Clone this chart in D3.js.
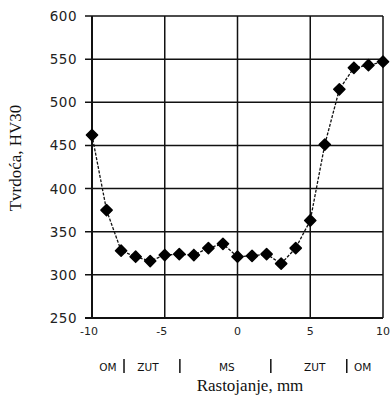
<!DOCTYPE html>
<html><head><meta charset="utf-8">
<script src="https://cdn.jsdelivr.net/npm/d3@7"></script>
<style>body{margin:0;background:#fff}</style>
</head><body>
<svg id="c" width="390" height="400"></svg>
<script>
const distance = [-10,-9,-8,-7,-6,-5,-4,-3,-2,-1,0,1,2,3,4,5,6,7,8,9,10];
const hardness = [462,375,328,321,316,323,324,323,331,336,321,322,324,313,331,363,451,515,540,543,547];
const yTicks = [250,300,350,400,450,500,550,600];
const xTicks = [-10,-5,0,5,10];
const zoneLabels = ["OM","ZUT","MS","ZUT","OM"];
const zonePos = [-8.9,-6.15,-0.73,5.31,8.6];
const zoneDividers = [-7.8,-3.96,2.29,7.51];

const svg = d3.select("#c");
const x = d3.scaleLinear().domain([-10,10]).range([92,383]);
const y = d3.scaleLinear().domain([250,600]).range([318,16]);

// grid
svg.append("g").selectAll("line").data(yTicks).join("line")
  .attr("x1",85).attr("x2",x(10)).attr("y1",d=>y(d)).attr("y2",d=>y(d))
  .attr("stroke","#111").attr("stroke-width",d=>d===250?2:1.5);
svg.append("g").selectAll("line").data(xTicks).join("line")
  .attr("x1",d=>x(d)).attr("x2",d=>x(d)).attr("y1",y(600)).attr("y2",y(250))
  .attr("stroke","#111").attr("stroke-width",d=>d===-10?2:1.5);

// y tick labels
svg.append("g").selectAll("text").data(yTicks).join("text")
  .attr("x",77).attr("y",d=>y(d)+5).attr("text-anchor","end")
  .attr("font-family","DejaVu Sans").attr("font-size",13.5).attr("letter-spacing",0.5)
  .attr("fill","#222").text(d=>d);
// x tick labels
svg.append("g").selectAll("text").data(xTicks).join("text")
  .attr("x",d=>x(d)-(d<0?3:0)).attr("y",335).attr("text-anchor","middle")
  .attr("font-family","DejaVu Sans").attr("font-size",11)
  .attr("fill","#222").text(d=>d);

// line
const line = d3.line().x((d,i)=>x(distance[i])).y(d=>y(d));
svg.append("path").datum(hardness).attr("d",line).attr("fill","none")
  .attr("stroke","#111").attr("stroke-width",1.3).attr("stroke-dasharray","3,1.5");
// markers
svg.append("g").selectAll("path").data(hardness).join("path")
  .attr("transform",(d,i)=>`translate(${x(distance[i])},${y(d)})`)
  .attr("d",d3.symbol(d3.symbolDiamond2,80)).attr("fill","#000")
  .attr("stroke","#000").attr("stroke-width",1.5).attr("stroke-linejoin","round");

// zone labels
svg.append("g").selectAll("text").data(zoneLabels).join("text")
  .attr("x",(d,i)=>x(zonePos[i])).attr("y",371).attr("text-anchor","middle")
  .attr("font-family","DejaVu Sans").attr("font-size",10.5)
  .attr("fill","#111").text(d=>d);
svg.append("g").selectAll("line").data(zoneDividers).join("line")
  .attr("x1",d=>x(d)).attr("x2",d=>x(d)).attr("y1",359).attr("y2",373)
  .attr("stroke","#111").attr("stroke-width",1.5);

// axis titles
svg.append("text").attr("x",250).attr("y",391).attr("text-anchor","middle")
  .attr("font-family","Liberation Serif").attr("font-size",17).attr("fill","#111")
  .text("Rastojanje, mm");
svg.append("text").attr("transform","translate(21,158) rotate(-90)").attr("text-anchor","middle")
  .attr("font-family","Liberation Serif").attr("font-size",17).attr("fill","#111")
  .text("Tvrdoća, HV30");
</script>
</body></html>
